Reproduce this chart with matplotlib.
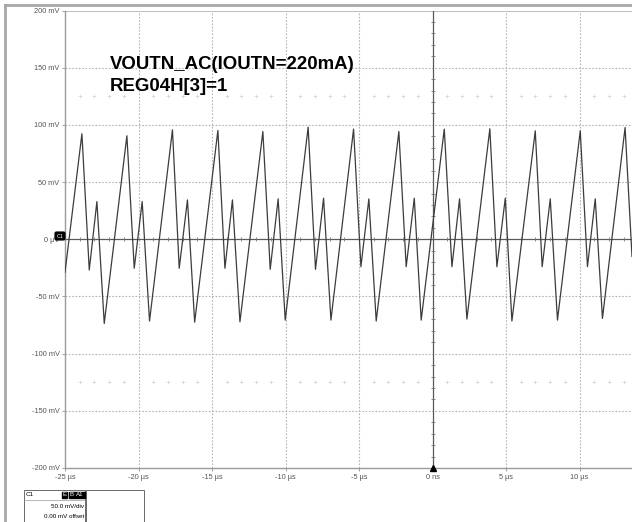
import matplotlib
matplotlib.use("Agg")
import matplotlib.pyplot as plt
import numpy as np
from matplotlib.lines import Line2D
from matplotlib.patches import Rectangle

W, H = 632, 522

# scope trace corners (time in us, voltage in mV)
start_t, start_v = -25.0, -29.0
end_t, end_v = 13.57, -15.0
big_peak_t = [-23.85, -20.79, -17.69, -14.60, -11.54, -8.46, -5.37, -2.29, 0.80, 3.90, 6.99, 10.05, 13.10]
big_peak_v = [92.2, 90.5, 95.7, 95.1, 94.2, 98.0, 96.3, 94.2, 96.3, 96.6, 94.8, 94.8, 97.7]
small_trough_t = [-23.35, -20.29, -17.23, -14.12, -11.04, -7.96, -4.87, -1.79, 1.32, 4.38, 7.46, 10.54]
small_trough_v = [-26.9, -25.4, -25.4, -25.4, -26.3, -26.3, -24.0, -24.0, -24.0, -24.0, -24.0, -24.0]
small_peak_t = [-22.83, -19.75, -16.67, -13.61, -10.50, -7.41, -4.33, -1.24, 1.84, 4.95, 8.01, 11.07]
small_peak_v = [32.9, 32.9, 34.4, 34.4, 35.3, 35.9, 35.3, 35.9, 35.3, 35.9, 35.3, 35.3]
big_trough_t = [-22.33, -19.25, -16.18, -13.10, -10.02, -6.91, -3.83, -0.77, 2.34, 5.40, 8.50, 11.56]
big_trough_v = [-73.6, -71.5, -72.5, -72.2, -70.7, -70.7, -71.5, -70.7, -69.8, -71.5, -70.7, -69.2]

yticks = [-200, -150, -100, -50, 0, 50, 100, 150, 200]
ylabels = ["-200 mV", "-150 mV", "-100 mV", "-50 mV", "0 \u00b5V", "50 mV", "100 mV", "150 mV", "200 mV"]
xticks = [-25, -20, -15, -10, -5, 0, 5, 10]
xlabels = ["-25 \u00b5s", "-20 \u00b5s", "-15 \u00b5s", "-10 \u00b5s", "-5 \u00b5s", "0 ns", "5 \u00b5s", "10 \u00b5s"]

title_lines = ["VOUTN_AC(IOUTN=220mA)", "REG04H[3]=1"]


def fx(x):
    return x / W


def fy(y):
    return 1 - y / H


# stitch the trace together
t = [start_t]
v = [start_v]
for i in range(len(big_peak_t)):
    t.append(big_peak_t[i]); v.append(big_peak_v[i])
    if i < len(small_trough_t):
        t += [small_trough_t[i], small_peak_t[i], big_trough_t[i]]
        v += [small_trough_v[i], small_peak_v[i], big_trough_v[i]]
t.append(end_t); v.append(end_v)

fig = plt.figure(figsize=(W / 100, H / 100), dpi=100)
fig.patch.set_facecolor("white")
left, top, bottom = 65, 10.5, 468
ax = fig.add_axes([fx(left), fy(bottom), 1 - fx(left), (bottom - top) / H])
ax.set_xlim(-25, 13.57)
ax.set_ylim(-200, 200)

# graticule
grid_c = "#b4b4b4"
for gx in xticks[1:]:
    if gx != 0:
        ax.axvline(gx, color=grid_c, lw=0.8, ls=(0, (1.5, 1.5)), zorder=1)
for gy in yticks[1:-1]:
    if gy != 0:
        ax.axhline(gy, color=grid_c, lw=0.8, ls=(0, (1.5, 1.5)), zorder=1)
ax.axhline(200, color="#c0c0c0", lw=0.8, zorder=1)
ax.axhline(0, color="#5a5a5a", lw=0.9, zorder=2)
ax.axvline(0, color="#5a5a5a", lw=0.9, zorder=2)

minor_t = [m for m in range(-24, 14) if m % 5 != 0]
ax.plot(minor_t, [0] * len(minor_t), ls="none", marker="|", ms=3.5, mew=0.6, color="#777777", zorder=2)
minor_v = [m for m in range(-190, 200, 10) if m % 50 != 0]
ax.plot([0] * len(minor_v), minor_v, ls="none", marker="_", ms=3.5, mew=0.6, color="#777777", zorder=2)
for row in (125, -125):
    ax.plot(minor_t, [row] * len(minor_t), ls="none", marker="+", ms=2.2, mew=0.4, color="#cccccc", zorder=1)

# the trace
ax.plot(t, v, color="#3c3c3c", lw=0.9, zorder=3)

ax.set_yticks(yticks)
ax.set_yticklabels(ylabels, fontsize=5.3, color="#555555", family="Liberation Sans")
ax.set_xticks(xticks)
ax.set_xticklabels(xlabels, fontsize=5.3, color="#555555", family="Liberation Sans")
ax.tick_params(length=2, width=0.6, color="#909090", pad=2)
for s in ("top", "right"):
    ax.spines[s].set_visible(False)
for s in ("left", "bottom"):
    ax.spines[s].set_color("#9a9a9a")
    ax.spines[s].set_linewidth(1.0)

# trigger marker
ax.plot([0], [-200], marker="^", ms=4.5, color="black", clip_on=False, zorder=5)

# channel marker on the left
fig.text(fx(60), fy(236), "C1", fontsize=4, color="white", ha="center", va="center",
         family="Liberation Sans",
         bbox=dict(boxstyle="round,pad=0.25", fc="black", ec="black"))

# annotation
for i, line in enumerate(title_lines):
    fig.text(fx(110), fy(69 + 22 * i), line, fontsize=13.4, fontweight="bold",
             family="Liberation Sans", color="black", va="baseline", ha="left")

# outer frame of the screen
fig.add_artist(Line2D([fx(4.5), 1], [fy(4.5), fy(4.5)], color="#a8a8a8", lw=2))
fig.add_artist(Line2D([fx(4.5), fx(4.5)], [fy(4.5), 0], color="#a8a8a8", lw=2))

# channel info boxes
fig.add_artist(Rectangle((fx(24), 0), fx(61), fy(490), fill=False, ec="#6a6a6a", lw=0.7))
fig.add_artist(Rectangle((fx(86), 0), fx(58), fy(490), fill=False, ec="#6a6a6a", lw=0.7))
fig.add_artist(Line2D([fx(24), fx(85)], [fy(500), fy(500)], color="#9a9a9a", lw=0.5))
fig.text(fx(26), fy(495), "C1", fontsize=4.5, family="Liberation Sans", va="center")
for k, (lab, xc) in enumerate(zip(["E", "B", "A1"], [64.5, 72, 80])):
    fig.text(fx(xc), fy(495), lab, fontsize=4.4, color="white", ha="center", va="center",
             family="Liberation Sans",
             bbox=dict(boxstyle="square,pad=0.15", fc="black", ec="black"))
fig.text(fx(84), fy(507), "50.0 mV/div", fontsize=4.5, family="Liberation Sans", ha="right", va="center")
fig.text(fx(84), fy(516), "0.00 mV offset", fontsize=4.5, family="Liberation Sans", ha="right", va="center")

fig.savefig("out.png", dpi=100)
